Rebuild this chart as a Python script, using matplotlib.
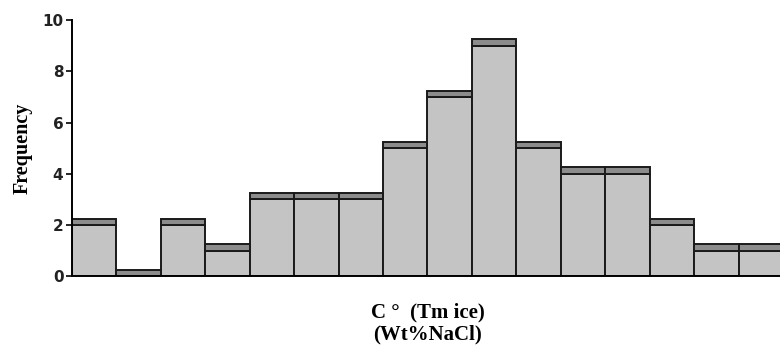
import numpy as np
import matplotlib.pyplot as plt

# counts per bin (light part) and the thin darker cap on top of each bar
counts = [2, 0, 2, 1, 3, 3, 3, 5, 7, 9, 5, 4, 4, 2, 1, 1]
cap = [0.25] * len(counts)

fig = plt.figure(figsize=(7.8, 3.54), dpi=100)
ax = fig.add_axes([0.092, 0.22, 0.912, 0.723])

x = np.arange(len(counts))
ax.bar(x, counts, width=1.0, align="edge", color="#c4c4c4",
       edgecolor="#1a1a1a", linewidth=1.4)
ax.bar(x, cap, bottom=counts, width=1.0, align="edge", color="#8c8c8c",
       edgecolor="#1a1a1a", linewidth=1.4)

ax.set_xlim(0, len(counts))
ax.set_ylim(0, 10)
ax.set_yticks([0, 2, 4, 6, 8, 10])
ax.set_xticks([])
for lab in ax.get_yticklabels():
    lab.set_fontweight("bold")
    lab.set_fontsize(11)
    lab.set_color("#222222")
ax.tick_params(axis="y", direction="out", length=4, width=1.2, pad=2)

ax.spines["top"].set_visible(False)
ax.spines["right"].set_visible(False)
ax.spines["left"].set_linewidth(1.4)
ax.spines["bottom"].set_linewidth(1.4)

ax.set_ylabel("Frequency", family="Liberation Serif", fontweight="bold",
              fontsize=14.5, labelpad=7)
ax.set_xlabel("C \u00b0  (Tm ice)\n(Wt%NaCl)", family="Liberation Serif",
              fontweight="bold", fontsize=15, labelpad=19, linespacing=1.1)

fig.savefig("out.png", dpi=100)
